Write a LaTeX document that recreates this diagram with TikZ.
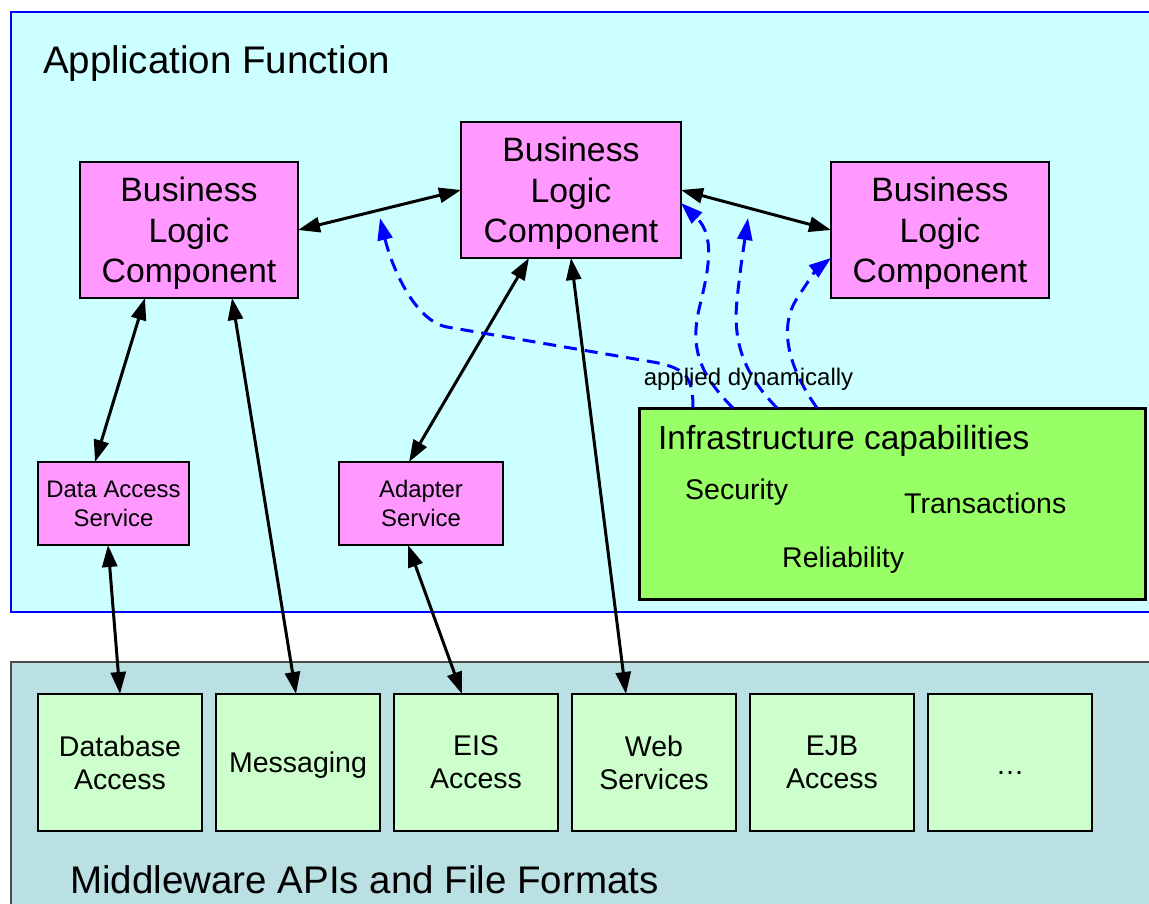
\documentclass[tikz,border=0pt]{standalone}
\usepackage{fontspec}
\setmainfont{Liberation Sans}
\usepackage{tikz}
\usetikzlibrary{
    arrows.meta,
    positioning,
    calc
}
\definecolor{Appbg}{RGB}{204, 255, 255}
\definecolor{Mwbg}{RGB}{187, 224, 227}
\definecolor{Blc}{RGB}{255, 153, 255}
\definecolor{Infra}{RGB}{153, 255, 102}
\definecolor{Api}{RGB}{204, 255, 204}
\tikzset{
    ablc/.style={
        rectangle, draw=black, line width=2pt, fill=Blc,
        minimum width=218pt, minimum height=136pt, inner sep=0pt, outer sep=0pt,
        text depth=0pt, align=center, font=\fontsize{33.8}{40.5}\selectfont
    },
    asvc/.style={
        rectangle, draw=black, line width=2pt, fill=Blc,
        minimum width=151pt, minimum height=83pt, inner sep=0pt, outer sep=0pt,
        align=center, font=\fontsize{23.9}{29}\selectfont
    },
    aapi/.style={
        rectangle, draw=black, line width=2pt, fill=Api,
        minimum width=164pt, minimum height=137pt, inner sep=0pt, outer sep=0pt,
        text depth=-2pt, align=center, font=\fontsize{28.5}{33}\selectfont
    },
    alabel/.style={anchor=base west, inner sep=0pt},
    aarr/.style={{Triangle[length=22pt, width=15pt]}-{Triangle[length=22pt, width=15pt]}, line width=3pt, black},
    adyn/.style={-{Triangle[length=22pt, width=15pt]}, line width=3pt, blue, dash pattern=on 13pt off 8pt},
}

\begin{document}
\begin{tikzpicture}[x=1pt, y=-1pt]

    \useasboundingbox (0,0) rectangle (1149,903);
    \clip (0,0) rectangle (1149,903);

    % the two layers
    \draw [fill=Appbg, draw=blue, line width=2pt] (11,12) rectangle (1170,612);
    \draw [fill=Mwbg, draw=black!70, line width=2pt] (11,662) rectangle (1170,930);
    \node [alabel, font=\fontsize{38.5}{44}\selectfont]
        (apptitle) at (43,73) {Application Function};
    \node [alabel, font=\fontsize{38.5}{44}\selectfont]
        (mwtitle) at (70,893) {Middleware APIs and File Formats};

    % business logic
    \node [ablc] (blc1) at (189,230) {Business \\ Logic \\ Component};
    \node [ablc, minimum width=220pt] (blc2) at (571,190) {Business \\ Logic \\ Component};
    \node [ablc] (blc3) at (940,230) {Business \\ Logic \\ Component};

    \node [asvc] (das) at (113.5,503.5) {Data Access \\ Service};
    \node [asvc, minimum width=164pt] (adp) at (421,503.5) {Adapter \\ Service};

    % infrastructure
    \node [rectangle, draw=black, line width=3pt, fill=Infra, inner sep=0pt, outer sep=0pt,
        minimum width=506pt, minimum height=191pt] (infra) at (892,503.5) {};
    \node [alabel, font=\fontsize{33.4}{40}\selectfont]
        (inftitle) at (658,449) {Infrastructure capabilities};
    \node [alabel, font=\fontsize{28.5}{33}\selectfont] (sec) at (685,499) {Security};
    \node [alabel, font=\fontsize{28.5}{33}\selectfont] (trx) at (904,513) {Transactions};
    \node [alabel, font=\fontsize{28.5}{33}\selectfont] (rel) at (782,567) {Reliability};

    % middleware apis
    \node [aapi] (dba) at (120,762.5) {Database \\ Access};
    \node [aapi, right=14pt of dba] (msg) {Messaging};
    \node [aapi, right=14pt of msg] (eis) {EIS \\ Access};
    \node [aapi, right=14pt of eis] (web) {Web \\ Services};
    \node [aapi, right=14pt of web] (ejb) {EJB \\ Access};
    \node [aapi, right=14pt of ejb] (more) {\strut …};

    \draw [aarr] (blc1.east) -- (blc2.west);
    \draw [aarr] (blc2.east) -- (blc3.west);
    \draw [aarr] ([xshift=-44pt]blc1.south) -- ([xshift=-18.5pt]das.north);
    \draw [aarr] ([xshift=43pt]blc1.south) -- ([xshift=-2pt]msg.north);
    \draw [aarr] ([xshift=-42pt]blc2.south) -- ([xshift=-12pt]adp.north);
    \draw [aarr] (blc2.south) -- ([xshift=-28pt]web.north);
    \draw [aarr] ([xshift=-5.5pt]das.south) -- (dba.north);
    \draw [aarr] ([xshift=-13pt]adp.south) -- ([xshift=-14pt]eis.north);

    % capabilities pushed up into the components
    \coordinate (dyn1) at (380,218);
    \coordinate (dyn3) at (748,218);
    \draw [adyn] ([xshift=-199pt]infra.north) .. controls (693,376) and (686,367) .. (647,361)
        -- (447,327) .. controls (415,321) and (392,268) .. (dyn1);
    \draw [adyn] ([xshift=-159pt]infra.north) .. controls (697,372) and (690,345) .. (700,305)
        .. controls (708,272) and (716,236) .. ([yshift=-13pt]blc2.east);
    \draw [adyn] ([xshift=-115pt]infra.north) .. controls (742,372) and (733,340) .. (737,300)
        .. controls (740,270) and (744,245) .. (dyn3);
    \draw [adyn] ([xshift=-75pt]infra.north) .. controls (790,370) and (778,330) .. (796,300)
        .. controls (806,284) and (818,268) .. ([yshift=-28pt]blc3.west);
    \node [anchor=base, font=\fontsize{24}{28}\selectfont] (dynlbl) at (748.5,385) {applied dynamically};

\end{tikzpicture}
\end{document}
